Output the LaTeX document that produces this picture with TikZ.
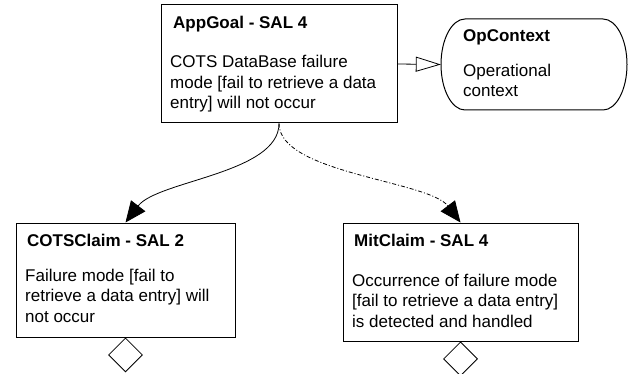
\documentclass[tikz,border=0pt]{standalone}
\usepackage{fontspec}
\setmainfont{Liberation Sans}
\usetikzlibrary{arrows.meta,shapes.geometric}
\begin{document}
\begin{tikzpicture}[x=1pt,y=-1pt,
  boxstyle/.style={draw,line width=1pt,rectangle,inner sep=0pt},
  ttl/.style={anchor=base west,inner sep=0pt,font=\fontsize{17}{20.5}\selectfont\bfseries},
  bodytext/.style={anchor=base west,inner sep=0pt,align=left,font=\fontsize{17}{20.5}\selectfont},
  dia/.style={diamond,draw,line width=0.8pt,aspect=1,minimum width=34pt,minimum height=34pt,inner sep=0pt,anchor=north,fill=white},
  solidlink/.style={line width=0.8pt,-{Triangle[length=21pt,width=18pt]}},
  dashlink/.style={line width=0.8pt,dash pattern=on 4pt off 2pt on 1pt off 2pt,-{Triangle[length=21pt,width=18pt]}},
  ctxlink/.style={line width=0.8pt,-{Triangle[open,length=25pt,width=15pt]}}]
\useasboundingbox (0,0) rectangle (628,374);

% boxes
\node[boxstyle,minimum width=236pt,minimum height=118pt] (goal) at (279,64) {};
\node[minimum width=186pt,minimum height=91pt,inner sep=0pt] (ctx) at (534,64.5) {};
\draw[line width=1pt] (465,19) -- (603,19)
  arc[start angle=-90,end angle=90,x radius=24,y radius=45.5] -- (465,110)
  arc[start angle=90,end angle=270,x radius=24,y radius=45.5] -- cycle;
\node[boxstyle,minimum width=219pt,minimum height=114pt] (cots) at (125.5,280) {};
\node[boxstyle,minimum width=235pt,minimum height=118pt] (mit) at (460.5,282) {};

% texts (base anchor = baseline of last line)
\node[ttl] (goalT) at (173,29) {AppGoal - SAL 4};
\node[bodytext] (goalB) at (170,109) {COTS DataBase failure\\mode [fail to retrieve a data\\entry] will not occur};
\node[ttl] (ctxT) at (463,42) {OpContext};
\node[bodytext] (ctxB) at (463,97) {Operational\\context};
\node[ttl] (cotsT) at (27,246) {COTSClaim - SAL 2};
\node[bodytext] (cotsB) at (25,322) {Failure mode [fail to\\retrieve a data entry] will\\not occur};
\node[ttl] (mitT) at (354,246) {MitClaim - SAL 4};
\node[bodytext] (mitB) at (352,327) {Occurrence of failure mode\\{[}fail to retrieve a data entry{]}\\is detected and handled};

% diamonds
\node[dia] (d1) at (cots.south) {};
\node[dia] (d2) at (mit.south) {};

% connectors
\draw[ctxlink] (goal.east) -- (ctx.west);
\draw[solidlink] (goal.south) .. controls +(0,50) and +(32,-42) .. (cots.north);
\draw[dashlink] (goal.south) .. controls +(0,50) and +(-32,-42) .. (mit.north);
\end{tikzpicture}
\end{document}
